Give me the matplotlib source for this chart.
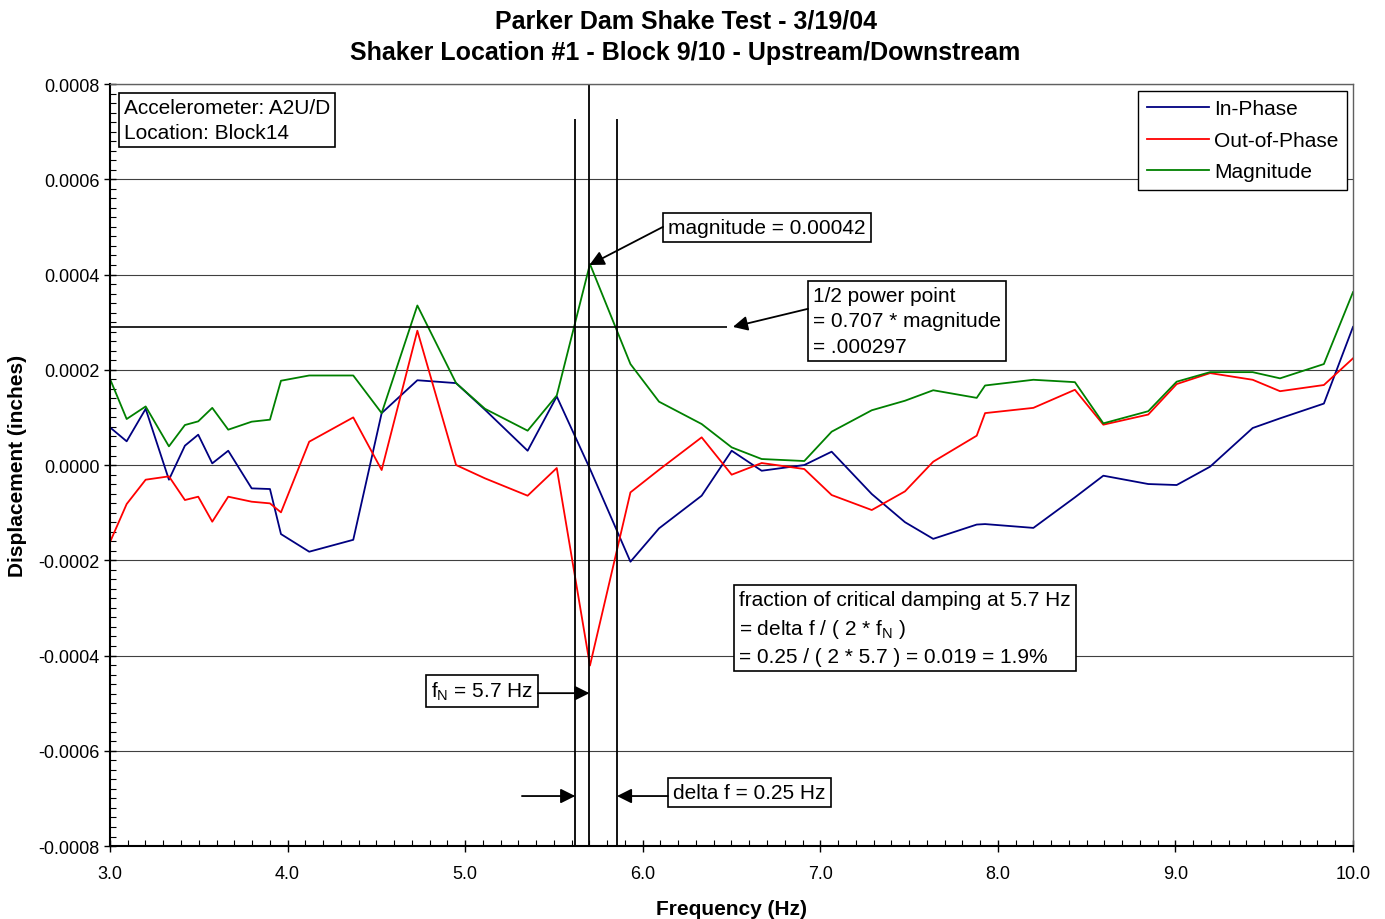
import matplotlib
matplotlib.use("Agg")
import matplotlib.pyplot as plt
from matplotlib.ticker import MultipleLocator, FormatStrFormatter

plt.rcParams['font.family'] = ['Liberation Sans', 'DejaVu Sans']
plt.rcParams['mathtext.default'] = 'regular'

# frequency points (Hz)
freq = [3.0, 3.094, 3.201, 3.332, 3.422, 3.497, 3.576, 3.666, 3.798, 3.901,
        3.963, 4.122, 4.370, 4.530, 4.731, 4.949, 5.112, 5.352, 5.516, 5.703,
        5.931, 6.092, 6.332, 6.501, 6.670, 6.910, 7.064, 7.290, 7.477, 7.636,
        7.881, 7.928, 8.200, 8.434, 8.594, 8.847, 9.007, 9.195, 9.435, 9.589,
        9.836, 10.0]

in_phase = [0.0000791, 0.0000498, 0.000118, -0.0000308, 0.0000406, 0.0000637,
            0.0000035, 0.000030, -0.000049, -0.0000504, -0.000145, -0.000182,
            -0.000157, 0.000109, 0.000178, 0.000172, 0.000116, 0.000030,
            0.000144, -0.000008, -0.000203, -0.000133, -0.0000644, 0.000030,
            -0.000012, 0.0, 0.000028, -0.0000609, -0.000120, -0.000155,
            -0.000125, -0.000124, -0.000132, -0.0000679, -0.0000224, -0.0000399,
            -0.000042, -0.0000035, 0.0000777, 0.000098, 0.000129, 0.000290]

out_phase = [-0.000162, -0.0000819, -0.0000308, -0.0000238, -0.0000735, -0.0000665,
             -0.000119, -0.0000665, -0.000077, -0.0000805, -0.0000994, 0.000049,
             0.000100, -0.0000105, 0.000282, 0.0, -0.000028, -0.0000644,
             -0.0000063, -0.000421, -0.0000574, -0.000010, 0.0000581, -0.0000203,
             0.0000042, -0.0000084, -0.000063, -0.0000945, -0.0000553, 0.0000070,
             0.0000616, 0.000109, 0.000120, 0.000158, 0.0000847, 0.000106,
             0.000170, 0.000193, 0.000179, 0.000155, 0.000168, 0.000224]

magnitude = [0.000181, 0.0000966, 0.000123, 0.0000392, 0.000084, 0.0000917,
             0.000120, 0.0000742, 0.000091, 0.0000952, 0.000177, 0.000188,
             0.000188, 0.000109, 0.000335, 0.000172, 0.000118, 0.0000721,
             0.000146, 0.000422, 0.000212, 0.000133, 0.0000861, 0.0000371,
             0.0000126, 0.0000084, 0.000070, 0.000115, 0.000135, 0.000157,
             0.000141, 0.000167, 0.000179, 0.000174, 0.0000875, 0.000113,
             0.000175, 0.000195, 0.000195, 0.000182, 0.000212, 0.000363]

f_n = 5.7
f_lo, f_hi = 5.62, 5.855
half_power = 0.00029
peak = 0.00042

fig = plt.figure(figsize=(13.85, 9.2), dpi=100)
ax = fig.add_axes([0.0794, 0.0793, 0.8975, 0.8283])

ax.plot(freq, in_phase, color='#000080', lw=1.3, label='In-Phase')
ax.plot(freq, out_phase, color='#FF0000', lw=1.3, label='Out-of-Phase')
ax.plot(freq, magnitude, color='#008000', lw=1.3, label='Magnitude')

ax.set_xlim(3.0, 10.0)
ax.set_ylim(-0.0008, 0.0008)
ax.xaxis.set_major_locator(MultipleLocator(1.0))
ax.xaxis.set_minor_locator(MultipleLocator(0.1))
ax.yaxis.set_major_locator(MultipleLocator(0.0002))
ax.yaxis.set_minor_locator(MultipleLocator(0.00002))
ax.xaxis.set_major_formatter(FormatStrFormatter('%.1f'))
ax.yaxis.set_major_formatter(FormatStrFormatter('%.4f'))
ax.tick_params(which='major', direction='inout', length=8, width=1, labelsize=13)
ax.tick_params(which='minor', direction='in', length=4, width=0.8)
ax.tick_params(axis='x', which='major', pad=10)
ax.yaxis.grid(True, which='major', color='#404040', lw=0.8)
ax.set_axisbelow(True)
for s in ['left', 'bottom']:
    ax.spines[s].set_linewidth(1.5)
for s in ['top', 'right']:
    ax.spines[s].set_color('#606060')
    ax.spines[s].set_linewidth(1.0)

ax.set_xlabel('Frequency (Hz)', fontsize=15, fontweight='bold', labelpad=12)
ax.set_ylabel('Displacement (inches)', fontsize=15, fontweight='bold', labelpad=8)

fig.text(0.495, 0.977, 'Parker Dam Shake Test - 3/19/04', ha='center', va='center',
         fontsize=18, fontweight='bold')
fig.text(0.495, 0.942, 'Shaker Location #1 - Block 9/10 - Upstream/Downstream',
         ha='center', va='center', fontsize=18, fontweight='bold')

# half power line and frequency markers
ax.hlines(half_power, 3.0, 6.475, color='black', lw=1.2)
ax.vlines([f_lo, f_hi], -0.0008, 0.000727, color='black', lw=1.3)
ax.vlines(f_n, -0.0008, 0.0008, color='black', lw=1.3)

box = dict(boxstyle='square,pad=0.25', fc='white', ec='black', lw=1.2)
arrow = dict(arrowstyle='-|>', color='black', lw=1.3, mutation_scale=22,
             shrinkA=0, shrinkB=0)
fs = 15

ax.text(3.079, 0.000771, 'Accelerometer: A2U/D\nLocation: Block14', fontsize=fs,
        va='top', ha='left', bbox=box, linespacing=1.42)

ax.text(6.142, 0.000499, 'magnitude = 0.00042', fontsize=fs, va='center', ha='left', bbox=box)
ax.annotate('', xy=(f_n, peak), xytext=(6.114, 0.0005), arrowprops=arrow)

ax.text(6.959, 0.000303, '1/2 power point\n= 0.707 * magnitude\n= .000297', fontsize=fs,
        va='center', ha='left', bbox=box, linespacing=1.42)
ax.annotate('', xy=(6.508, half_power), xytext=(6.931, 0.000328), arrowprops=arrow)

ax.text(4.808, -0.0004745, 'f$_{N}$ = 5.7 Hz', fontsize=fs, va='center', ha='left', bbox=box)
ax.annotate('', xy=(f_n, -0.000479), xytext=(5.41, -0.000479), arrowprops=arrow)

ax.text(6.171, -0.000688, 'delta f = 0.25 Hz', fontsize=fs, va='center', ha='left', bbox=box)
ax.annotate('', xy=(f_hi, -0.000695), xytext=(6.142, -0.000695), arrowprops=arrow)
ax.annotate('', xy=(f_lo, -0.000695), xytext=(5.32, -0.000695), arrowprops=arrow)

ax.text(6.542, -0.000342,
        'fraction of critical damping at 5.7 Hz\n= delta f / ( 2 * f$_{N}$ )\n= 0.25 / ( 2 * 5.7 ) = 0.019 = 1.9%',
        fontsize=fs, va='center', ha='left', bbox=box, linespacing=1.45)

leg = ax.legend(loc='upper right', bbox_to_anchor=(0.9952, 0.9908), borderaxespad=0,
                fontsize=15, frameon=True, fancybox=False, handlelength=3.0,
                borderpad=0.4, labelspacing=0.6, handletextpad=0.25)
leg.get_frame().set_edgecolor('black')
leg.get_frame().set_linewidth(1.0)
leg.get_frame().set_alpha(1)

fig.savefig('out.png', dpi=100)
